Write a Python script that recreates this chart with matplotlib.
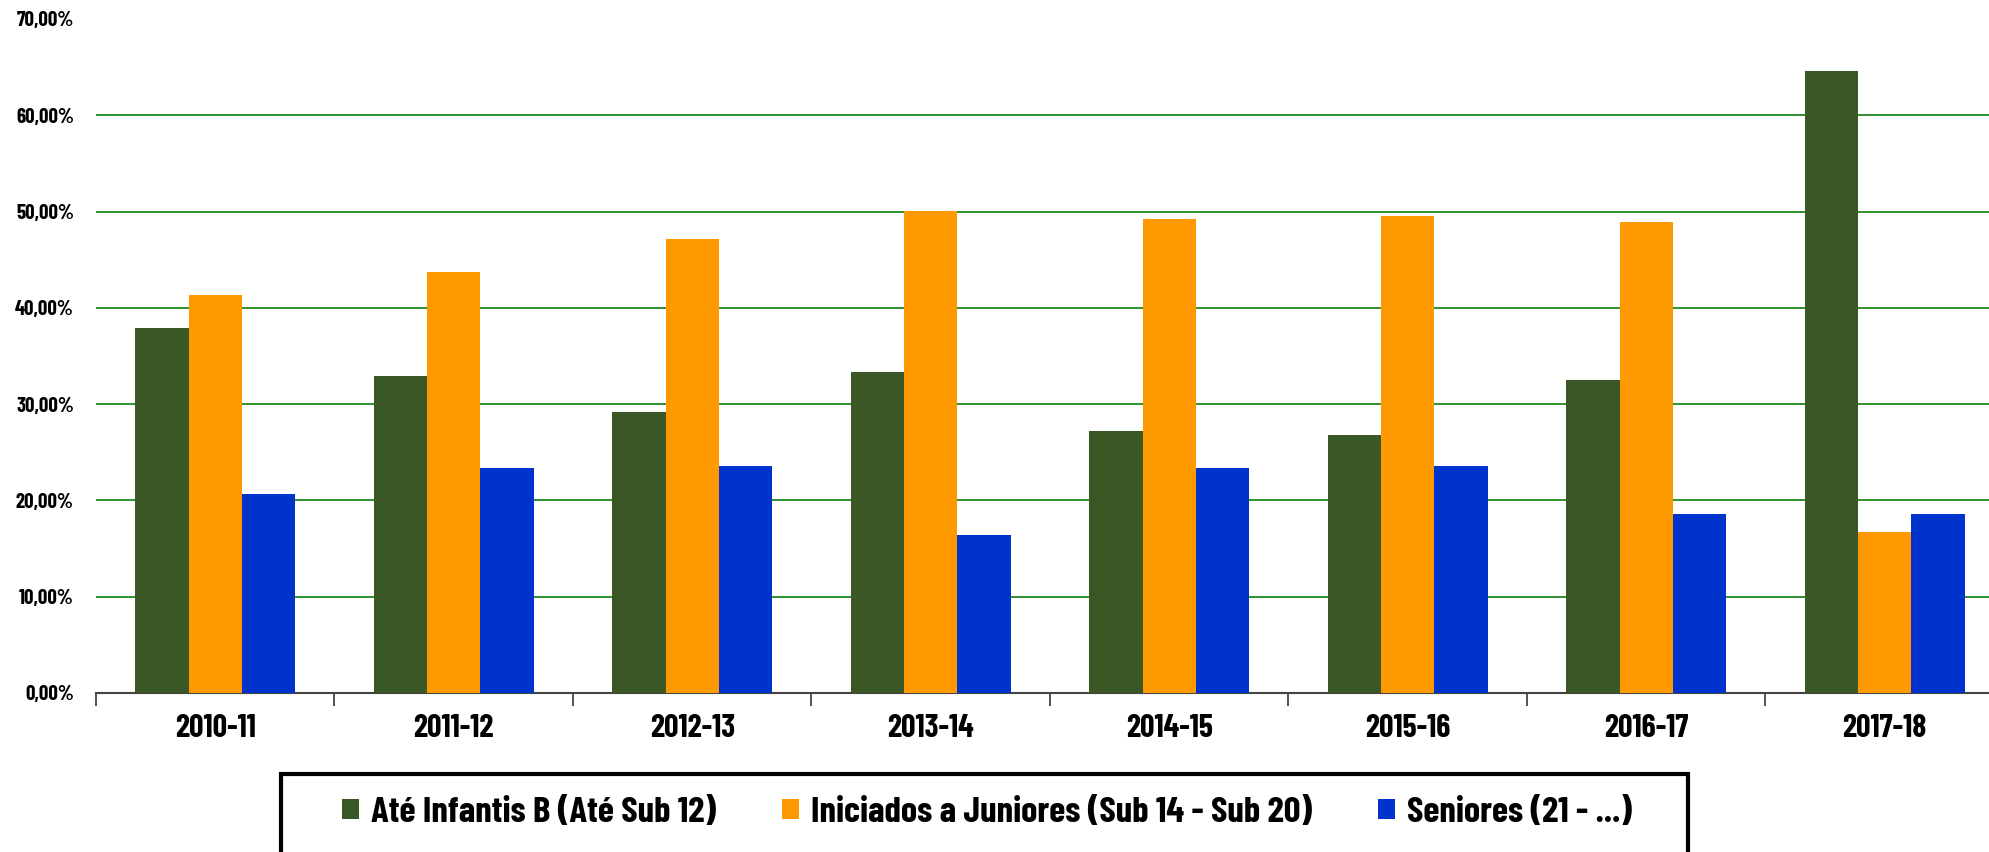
import matplotlib
matplotlib.use("Agg")
import matplotlib.pyplot as plt
import numpy as np
from matplotlib import font_manager
from matplotlib.patches import Rectangle, Patch

categories = ["2010-11", "2011-12", "2012-13", "2013-14", "2014-15", "2015-16", "2016-17", "2017-18"]
series_names = ["Até Infantis B (Até Sub 12)", "Iniciados a Juniores (Sub 14 - Sub 20)", "Seniores (21 - ...)"]
ate_infantis = [37.9, 32.9, 29.2, 33.3, 27.2, 26.8, 32.5, 64.6]
iniciados_juniores = [41.3, 43.7, 47.1, 50.1, 49.2, 49.5, 48.9, 16.7]
seniores = [20.7, 23.4, 23.6, 16.4, 23.4, 23.6, 18.6, 18.6]
yticks = [0, 10, 20, 30, 40, 50, 60, 70]
ytick_labels = ["0,00%", "10,00%", "20,00%", "30,00%", "40,00%", "50,00%", "60,00%", "70,00%"]
colors = ["#3B5725", "#FF9900", "#0033CC"]

names = {f.name for f in font_manager.fontManager.ttflist}
prefs = ["Barlow Condensed", "Roboto Condensed", "Archivo Narrow", "IBM Plex Sans Condensed", "DejaVu Sans"]
fam = next(p for p in prefs if p in names)
plt.rcParams["font.family"] = [fam, "DejaVu Sans"]
plt.rcParams["font.weight"] = "bold"

W, H = 1990, 852
fig = plt.figure(figsize=(W / 100, H / 100), dpi=100)
left, right, top, bottom = 96, 2004, 19, 693
ax = fig.add_axes([left / W, 1 - bottom / H, (right - left) / W, (bottom - top) / H])

x = np.arange(len(categories))
bw = 0.224
for i, (vals, c) in enumerate(zip([ate_infantis, iniciados_juniores, seniores], colors)):
    ax.bar(x + (i - 1) * bw, vals, width=bw, color=c, zorder=3)

ax.set_xlim(-0.5, len(categories) - 0.5)
ax.set_ylim(0, 70)
ax.set_yticks(yticks)
ax.set_yticklabels(ytick_labels, fontsize=15, fontweight="bold")
ax.yaxis.grid(True, color="#1E8B1E", linewidth=1.3, zorder=1)
gl = ax.yaxis.get_gridlines()
gl[-1].set_visible(False)
ax.tick_params(axis="y", length=0, pad=16)

ax.set_xticks(x)
ax.set_xticklabels(categories, fontsize=23, fontweight="bold")
ax.tick_params(axis="x", length=0, pad=15)
ax.set_xticks(np.arange(len(categories) + 1) - 0.5, minor=True)
ax.tick_params(axis="x", which="minor", length=9, width=1.3, color="#444444", direction="out")

for s in ["top", "right", "left"]:
    ax.spines[s].set_visible(False)
ax.spines["bottom"].set_color("#444444")
ax.spines["bottom"].set_linewidth(1.5)

# legend box
fig.patches.append(Rectangle((281.5 / W, -0.05), (1688 - 281.5) / W, (1 - 774 / H) + 0.05,
                             transform=fig.transFigure, fill=False, edgecolor="black",
                             linewidth=3.0, zorder=5))
handles = [Patch(facecolor=c, edgecolor="none") for c in colors]
fig.legend(handles, series_names, loc="center", bbox_to_anchor=(987 / W, 1 - 813 / H),
           ncol=3, frameon=False, prop={"size": 26.5, "weight": "bold"},
           handlelength=0.45, handleheight=0.45, handletextpad=0.33, columnspacing=1.8)

fig.savefig("out.png", dpi=100)
